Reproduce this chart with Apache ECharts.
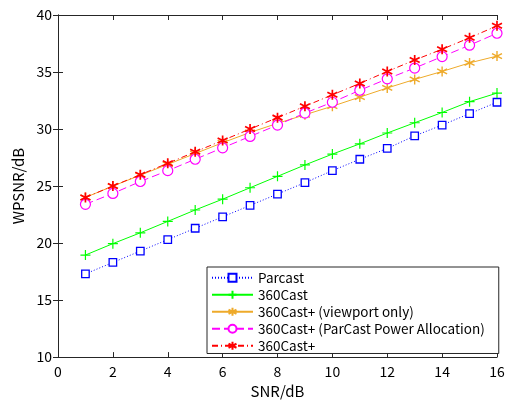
<!DOCTYPE html>
<html>
<head>
<meta charset="utf-8">
<script src="https://cdn.jsdelivr.net/npm/echarts@6/dist/echarts.min.js"></script>
<style>
  html, body { margin: 0; padding: 0; background: #fff; }
  #chart { width: 512px; height: 404px; }
</style>
</head>
<body>
<div id="chart"></div>
<script>
// SNR values (x axis)
var snr = [1, 2, 3, 4, 5, 6, 7, 8, 9, 10, 11, 12, 13, 14, 15, 16];

// WPSNR readings per scheme
var parcast   = [17.3, 18.3, 19.3, 20.3, 21.3, 22.3, 23.3, 24.3, 25.3, 26.35, 27.35, 28.3, 29.4, 30.35, 31.35, 32.35];
var cast360   = [18.95, 19.95, 20.9, 21.9, 22.9, 23.85, 24.85, 25.85, 26.85, 27.8, 28.7, 29.65, 30.55, 31.45, 32.4, 33.15];
var viewport  = [24.0, 25.0, 25.95, 26.9, 27.85, 28.8, 29.7, 30.5, 31.25, 32.0, 32.8, 33.6, 34.35, 35.05, 35.8, 36.4];
var parcastPA = [23.4, 24.35, 25.4, 26.35, 27.35, 28.35, 29.35, 30.35, 31.4, 32.35, 33.4, 34.4, 35.35, 36.35, 37.35, 38.4];
var cast360p  = [24.0, 25.0, 26.0, 27.0, 28.0, 29.0, 30.0, 31.0, 32.0, 33.0, 34.0, 35.05, 36.05, 37.0, 38.0, 39.05];

var names = ['Parcast', '360Cast', '360Cast+ (viewport only)', '360Cast+ (ParCast Power Allocation)', '360Cast+'];

var plus = 'path://M5,0L5,10M0,5L10,5';
var star = 'path://M5,0L5,10M0.7,2.5L9.3,7.5M0.7,7.5L9.3,2.5';

function pairs(ys) {
  return snr.map(function (x, i) { return [x, ys[i]]; });
}

var font = '"Noto Sans CJK JP", "DejaVu Sans", sans-serif';

var axisCommon = {
  axisLine: { show: true, lineStyle: { color: '#262626', width: 1 } },
  axisTick: { show: true, inside: true, length: 5, lineStyle: { color: '#262626' } },
  splitLine: { show: false }
};

var chart = echarts.init(document.getElementById('chart'));
chart.setOption({
  animation: false,
  textStyle: { fontFamily: font },
  grid: { left: 58, right: 15, top: 15, bottom: 43 },
  legend: {
    orient: 'vertical',
    left: 207,
    top: 267,
    data: names,
    itemWidth: 41,
    itemHeight: 10,
    itemGap: 3.5,
    padding: [4, 14, 1, 4],
    backgroundColor: '#fff',
    borderColor: '#262626',
    borderWidth: 1,
    borderRadius: 0,
    textStyle: { fontFamily: font, fontSize: 13.5, lineHeight: 13, color: '#000' }
  },
  xAxis: [
    Object.assign({
      type: 'value', min: 0, max: 16, interval: 2, position: 'bottom',
      name: 'SNR/dB', nameLocation: 'middle', nameGap: 24,
      nameTextStyle: { fontSize: 15, color: '#000', fontFamily: font },
      axisLabel: { fontSize: 14, color: '#000', margin: 8 }
    }, axisCommon),
    Object.assign({
      type: 'value', min: 0, max: 16, interval: 2, position: 'top',
      axisLabel: { show: false }
    }, axisCommon)
  ],
  yAxis: [
    Object.assign({
      type: 'value', min: 10, max: 40, interval: 5, position: 'left',
      name: 'WPSNR/dB', nameLocation: 'middle', nameGap: 27,
      nameTextStyle: { fontSize: 15, color: '#000', fontFamily: font },
      axisLabel: { fontSize: 14, color: '#000', margin: 6 }
    }, axisCommon),
    Object.assign({
      type: 'value', min: 10, max: 40, interval: 5, position: 'right',
      axisLabel: { show: false }
    }, axisCommon)
  ],
  series: [
    {
      name: names[0], type: 'line', data: pairs(parcast),
      symbol: 'rect', symbolSize: 7.5,
      lineStyle: { color: '#0000ff', width: 1, type: [1, 2] },
      itemStyle: { color: '#fff', borderColor: '#0000ff', borderWidth: 1.3 }
    },
    {
      name: names[1], type: 'line', data: pairs(cast360),
      symbol: plus, symbolSize: 10,
      lineStyle: { color: '#00ff00', width: 1 },
      itemStyle: { color: '#00ff00', borderColor: '#00ff00', borderWidth: 1.2 }
    },
    {
      name: names[2], type: 'line', data: pairs(viewport),
      symbol: star, symbolSize: 10,
      lineStyle: { color: '#eeaa2a', width: 1 },
      itemStyle: { color: '#eeaa2a', borderColor: '#eeaa2a', borderWidth: 1.4 }
    },
    {
      name: names[3], type: 'line', data: pairs(parcastPA),
      symbol: 'circle', symbolSize: 10,
      lineStyle: { color: '#ff00ff', width: 1, type: [8, 4] },
      itemStyle: { color: '#fff', borderColor: '#ff00ff', borderWidth: 1.2 }
    },
    {
      name: names[4], type: 'line', data: pairs(cast360p),
      symbol: star, symbolSize: 10,
      lineStyle: { color: '#ff0000', width: 1, type: [6, 3, 1, 3] },
      itemStyle: { color: '#ff0000', borderColor: '#ff0000', borderWidth: 1.7 }
    }
  ]
});
</script>
</body>
</html>
